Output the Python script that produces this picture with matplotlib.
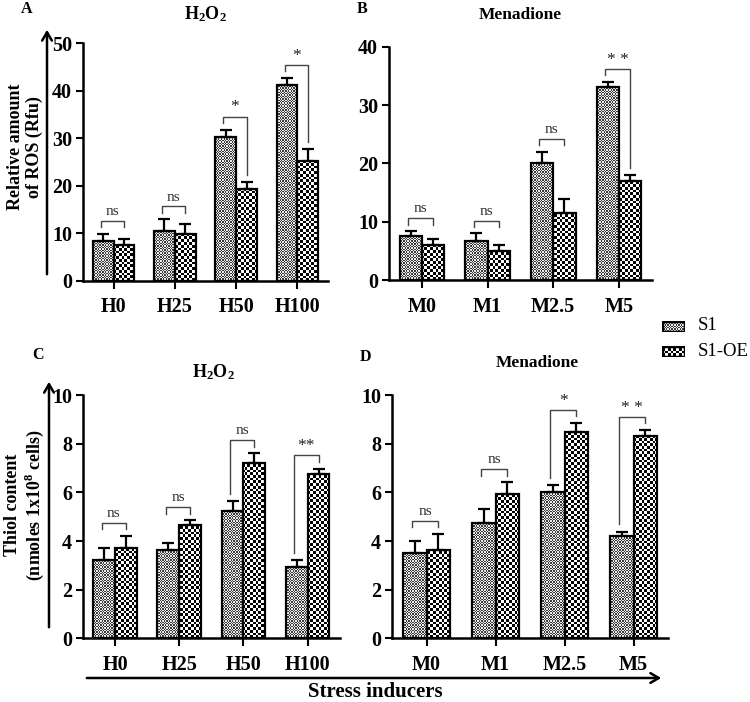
import matplotlib
matplotlib.use('Agg')
import matplotlib.pyplot as plt
import numpy as np
from matplotlib.colors import ListedColormap
from matplotlib.patches import FancyArrowPatch, Rectangle

plt.rcParams['font.family'] = 'Liberation Serif'
plt.rcParams['mathtext.fontset'] = 'custom'
plt.rcParams['mathtext.rm'] = 'Liberation Serif'
plt.rcParams['mathtext.bf'] = 'Liberation Serif:bold'

# Data
h2o2_groups = ['H0', 'H25', 'H50', 'H100']
men_groups = ['M0', 'M1', 'M2.5', 'M5']
series = ['S1', 'S1-OE']

ros_h2o2_s1 = [8.4, 10.4, 30.3, 41.3]
ros_h2o2_s1_err = [1.5, 2.5, 1.5, 1.4]
ros_h2o2_oe = [7.5, 9.9, 19.3, 25.3]
ros_h2o2_oe_err = [1.3, 2.0, 1.5, 2.5]
ros_h2o2_sig = ['ns', 'ns', '*', '*']

ros_men_s1 = [7.5, 6.7, 20.0, 33.1]
ros_men_s1_err = [0.9, 1.3, 2.0, 0.9]
ros_men_oe = [6.0, 5.0, 11.5, 17.0]
ros_men_oe_err = [1.0, 1.0, 2.4, 1.0]
ros_men_sig = ['ns', 'ns', 'ns', '* *']

thiol_h2o2_s1 = [3.2, 3.65, 5.25, 2.95]
thiol_h2o2_s1_err = [0.5, 0.25, 0.4, 0.25]
thiol_h2o2_oe = [3.7, 4.65, 7.2, 6.75]
thiol_h2o2_oe_err = [0.5, 0.2, 0.4, 0.22]
thiol_h2o2_sig = ['ns', 'ns', 'ns', '**']

thiol_men_s1 = [3.5, 4.75, 6.0, 4.2]
thiol_men_s1_err = [0.5, 0.55, 0.3, 0.18]
thiol_men_oe = [3.65, 5.95, 8.5, 8.3]
thiol_men_oe_err = [0.63, 0.46, 0.34, 0.25]
thiol_men_sig = ['ns', 'ns', '*', '* *']

W, H = 750, 702
fig = plt.figure(figsize=(W / 100, H / 100), dpi=100)


def checker(ax, patch, cell, c1, c2):
    b = ax.get_position()
    nx = int(b.width * W / cell)
    ny = int(b.height * H / cell)
    arr = np.indices((ny, nx)).sum(axis=0) % 2
    x0, x1 = ax.get_xlim()
    y0, y1 = ax.get_ylim()
    im = ax.imshow(arr, cmap=ListedColormap([c1, c2]), extent=(x0, x1, y0, y1),
                   aspect='auto', interpolation='nearest', zorder=2, origin='lower')
    im.set_clip_path(patch)


def panel(rect, groups, s1, s1e, oe, oee, sig, drop, ymax, ystep):
    ax = fig.add_axes(rect)
    x = np.arange(len(groups))
    w = 0.34
    ax.set_xlim(-0.5, len(groups) - 0.5)
    ax.set_ylim(0, ymax)
    b1 = ax.bar(x - w / 2, s1, w, color='white', zorder=1)
    b2 = ax.bar(x + w / 2, oe, w, color='white', zorder=1)
    for p in b1:
        checker(ax, p, 1.35, '#3a3a3a', '#ececec')
    for p in b2:
        checker(ax, p, 2.7, 'black', 'white')
    ax.bar(x - w / 2, s1, w, facecolor='none', edgecolor='black', linewidth=1.6, zorder=3)
    ax.bar(x + w / 2, oe, w, facecolor='none', edgecolor='black', linewidth=1.6, zorder=3)
    ax.errorbar(x - w / 2, s1, yerr=[np.zeros(len(s1)), s1e], fmt='none', ecolor='black',
                elinewidth=1.6, capsize=4, capthick=1.6, zorder=3)
    ax.errorbar(x + w / 2, oe, yerr=[np.zeros(len(oe)), oee], fmt='none', ecolor='black',
                elinewidth=1.6, capsize=4, capthick=1.6, zorder=3)

    # significance brackets
    for i in range(len(groups)):
        top1 = s1[i] + s1e[i]
        top2 = oe[i] + oee[i]
        h = max(top1, top2) + 0.055 * ymax
        short = h - 0.027 * ymax
        l_end = top1 + 0.03 * ymax if drop[i] == 'left' else short
        r_end = top2 + 0.03 * ymax if drop[i] == 'right' else short
        xl = x[i] - w / 2 - 0.04
        xr = x[i] + w / 2
        ax.plot([xl, xl, xr, xr], [l_end, h, h, r_end], color='#444444', lw=1.0, zorder=4)
        if sig[i] == 'ns':
            ax.text(x[i] - 0.02, h + 0.012 * ymax, 'ns', ha='center', va='bottom', fontsize=11, color='#333333')
        else:
            ax.text(x[i] - 0.02, h + 0.005 * ymax, sig[i], ha='center', va='bottom', fontsize=12.5, color='#222222')

    ax.spines['top'].set_visible(False)
    ax.spines['right'].set_visible(False)
    ax.spines['left'].set_linewidth(1.8)
    ax.spines['bottom'].set_linewidth(1.8)
    ax.set_yticks(np.arange(0, ymax + 0.1, ystep))
    ax.set_xticks(x)
    ax.set_xticklabels(groups)
    ax.tick_params(axis='both', width=1.5, length=5, labelsize=14.5, pad=3)
    ax.tick_params(axis='x', length=6, pad=6)
    for t in ax.get_xticklabels() + ax.get_yticklabels():
        t.set_fontweight('bold')
    return ax


axA = panel([0.1107, 0.6001, 0.3267, 0.3382], h2o2_groups, ros_h2o2_s1, ros_h2o2_s1_err,
            ros_h2o2_oe, ros_h2o2_oe_err, ros_h2o2_sig, ['', '', 'right', 'right'], 50, 10)
axB = panel([0.5187, 0.6011, 0.3502, 0.3323], men_groups, ros_men_s1, ros_men_s1_err,
            ros_men_oe, ros_men_oe_err, ros_men_sig, ['', '', '', 'right'], 40, 10)
axC = panel([0.1107, 0.0907, 0.3422, 0.3466], h2o2_groups, thiol_h2o2_s1, thiol_h2o2_s1_err,
            thiol_h2o2_oe, thiol_h2o2_oe_err, thiol_h2o2_sig, ['', '', 'left', 'left'], 10, 2)
axD = panel([0.5227, 0.0907, 0.3680, 0.3466], men_groups, thiol_men_s1, thiol_men_s1_err,
            thiol_men_oe, thiol_men_oe_err, thiol_men_sig, ['', '', 'left', 'left'], 10, 2)


def ftext(px, py, s, **kw):
    fig.text(px / W, 1 - py / H, s, **kw)


# panel titles and letters
ftext(205, 14, r'$\mathbf{H_2O_2}$', ha='center', va='center', fontsize=13)
ftext(520, 15, 'Menadione', ha='center', va='center', fontsize=12.5, fontweight='bold')
ftext(213, 372, r'$\mathbf{H_2O_2}$', ha='center', va='center', fontsize=13)
ftext(537, 363, 'Menadione', ha='center', va='center', fontsize=12.5, fontweight='bold')
ftext(27, 9, 'A', ha='center', va='center', fontsize=11.5, fontweight='bold')
ftext(362, 9, 'B', ha='center', va='center', fontsize=11.5, fontweight='bold')
ftext(38, 355, 'C', ha='center', va='center', fontsize=11.5, fontweight='bold')
ftext(365, 357, 'D', ha='center', va='center', fontsize=11.5, fontweight='bold')

# y labels with arrows
ftext(25, 147, 'Relative amount\nof ROS (Rfu)', ha='center', va='center', rotation=90,
      fontsize=13, fontweight='bold', linespacing=1.1)
ftext(25, 505, 'Thiol content\n(nmoles 1x10$^{\\mathbf{8}}$ cells)', ha='center', va='center',
      rotation=90, fontsize=13, fontweight='bold', linespacing=1.1)


def farrow(p0, p1):
    a = FancyArrowPatch((p0[0] / W, 1 - p0[1] / H), (p1[0] / W, 1 - p1[1] / H),
                        transform=fig.transFigure, arrowstyle='->,head_length=6,head_width=3.5',
                        mutation_scale=1, lw=1.8, color='black')
    fig.add_artist(a)


farrow((47, 277), (47, 27))
farrow((49, 630), (49, 379))
farrow((84, 678), (664, 678))
ftext(375, 692, 'Stress inducers', ha='center', va='center', fontsize=15, fontweight='bold')

# legend
for py, lab, cell, c1, c2 in [(326, 'S1', 1.35, '#3a3a3a', '#ececec'), (351, 'S1-OE', 2.7, 'black', 'white')]:
    lax = fig.add_axes([662 / W, 1 - (py + 5.5) / H, 23 / W, 11 / H])
    lax.set_xlim(0, 1)
    lax.set_ylim(0, 1)
    r = Rectangle((0, 0), 1, 1, facecolor='white', edgecolor='black', lw=1.6, zorder=1)
    lax.add_patch(r)
    checker(lax, r, cell, c1, c2)
    lax.add_patch(Rectangle((0, 0), 1, 1, facecolor='none', edgecolor='black', lw=2.5, zorder=3))
    lax.axis('off')
    ftext(698, py, lab, ha='left', va='center', fontsize=13.5)

fig.savefig('out.png', dpi=100)
